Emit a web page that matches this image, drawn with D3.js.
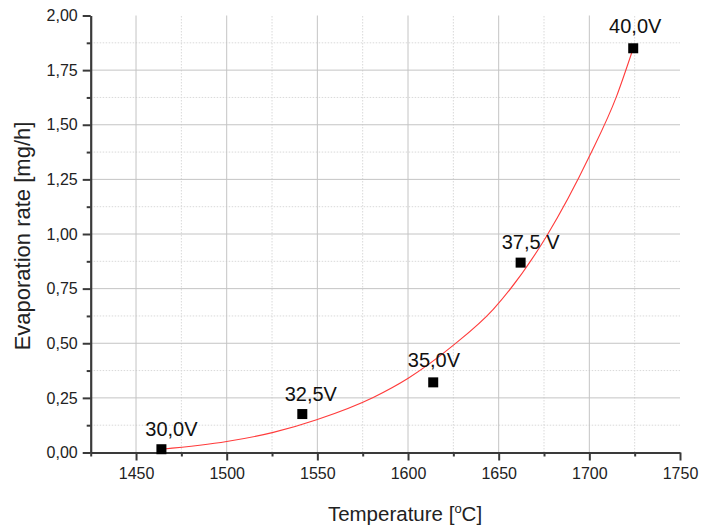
<!DOCTYPE html>
<html><head><meta charset="utf-8">
<script src="https://cdn.jsdelivr.net/npm/d3@7"></script>
<style>body{margin:0;background:#fff} svg{display:block;font-family:Arial,"Liberation Sans",sans-serif}</style>
</head><body><svg id="c" width="701" height="526"></svg>
<script>
// ---- data ----
const temperature = [1464, 1541.7, 1613.9, 1662.1, 1724.2];
const evaporation = [0.015, 0.176, 0.321, 0.869, 1.85];
const voltageLabels = ["30,0V", "32,5V", "35,0V", "37,5 V", "40,0V"];
// fitted curve
const fitT = [1464.2, 1500, 1525.7, 1549.6, 1580.8, 1600.1, 1624.9, 1647, 1676.4, 1700.3, 1715, 1724.2];
const fitV = [0.015, 0.050, 0.092, 0.150, 0.252, 0.340, 0.49, 0.655, 0.99, 1.36, 1.63, 1.85];
const xMajorTicks = [1450, 1500, 1550, 1600, 1650, 1700, 1750];
const xMinorTicks = [1425, 1475, 1525, 1575, 1625, 1675, 1725];
const yMajorTicks = [0, 0.25, 0.5, 0.75, 1.0, 1.25, 1.5, 1.75, 2.0];
const yMinorTicks = [0.125, 0.375, 0.625, 0.875, 1.125, 1.375, 1.625, 1.875];
const xTitle = "Temperature";
const yTitle = "Evaporation rate [mg/h]";

// ---- layout (styling) ----
const labelDx = [10, 8.5, 0.7, 10, 2];
const labelDy = [-13.3, -13.3, -15.6, -13.7, -15];
const W = 701, H = 526;
const m = {left: 90.7, right: 21, top: 15.5, bottom: 73.5};
const svg = d3.select("#c");
const x = d3.scaleLinear().domain([1425, 1750]).range([m.left, W - m.right]);
const y = d3.scaleLinear().domain([0, 2]).range([H - m.bottom, m.top]);
const fmt = v => d3.format(".2f")(v).replace(".", ",");

const grid = svg.append("g");
// minor grid
grid.selectAll(".vmin").data(xMinorTicks.filter(t => t > 1425)).join("line")
  .attr("x1", d => x(d)).attr("x2", d => x(d)).attr("y1", y(0)).attr("y2", y(2))
  .attr("stroke", "#d9d9d9").attr("stroke-width", 1).attr("stroke-dasharray", "1.5,1.5");
grid.selectAll(".hmin").data(yMinorTicks).join("line")
  .attr("y1", d => y(d)).attr("y2", d => y(d)).attr("x1", x(1425)).attr("x2", x(1750))
  .attr("stroke", "#d9d9d9").attr("stroke-width", 1).attr("stroke-dasharray", "1.5,1.5");
// major grid
grid.selectAll(".vmaj").data(xMajorTicks.filter(t => t < 1750)).join("line")
  .attr("x1", d => x(d)).attr("x2", d => x(d)).attr("y1", y(0)).attr("y2", y(2))
  .attr("stroke", "#c4c4c4").attr("stroke-width", 1);
grid.selectAll(".hmaj").data(yMajorTicks.filter(t => t > 0 && t < 2)).join("line")
  .attr("y1", d => y(d)).attr("y2", d => y(d)).attr("x1", x(1425)).attr("x2", x(1750))
  .attr("stroke", "#c4c4c4").attr("stroke-width", 1);

// axes
const axisColor = "#3a3a3a";
const xAxisMaj = d3.axisBottom(x).tickValues(xMajorTicks).tickSize(8).tickPadding(7).tickFormat(d3.format("d"));
const xAxisMin = d3.axisBottom(x).tickValues(xMinorTicks).tickSize(4).tickFormat("");
const yAxisMaj = d3.axisLeft(y).tickValues(yMajorTicks).tickSize(8).tickPadding(5).tickFormat(fmt);
const yAxisMin = d3.axisLeft(y).tickValues(yMinorTicks).tickSize(4).tickFormat("");

function styleAxis(g) {
  g.select(".domain").attr("stroke", axisColor).attr("stroke-width", 2.2);
  g.selectAll(".tick line").attr("stroke", axisColor).attr("stroke-width", 2);
  g.selectAll(".tick text").attr("fill", "#222").attr("font-size", 16).attr("font-family", "Arial, 'Liberation Sans', sans-serif");
}
svg.append("g").attr("transform", `translate(0,${y(0)})`).call(xAxisMin).call(styleAxis).select(".domain").remove();
svg.append("g").attr("transform", `translate(${x(1425)},0)`).call(yAxisMin).call(styleAxis).select(".domain").remove();
svg.append("g").attr("transform", `translate(0,${y(0)})`).call(xAxisMaj.tickSizeOuter(0)).call(styleAxis);
svg.append("g").attr("transform", `translate(${x(1425)},0)`).call(yAxisMaj.tickSizeOuter(0)).call(styleAxis);

// fit curve
const fitData = fitT.map((t, i) => [t, fitV[i]]);
svg.append("path").datum(fitData)
  .attr("fill", "none").attr("stroke", "#ff3b3b").attr("stroke-width", 1.1)
  .attr("d", d3.line().x(d => x(d[0])).y(d => y(d[1])).curve(d3.curveMonotoneX));

// points
const pts = temperature.map((t, i) => ({t, v: evaporation[i], label: voltageLabels[i], dx: labelDx[i], dy: labelDy[i]}));
svg.selectAll(".pt").data(pts).join("rect")
  .attr("x", d => x(d.t) - 5).attr("y", d => y(d.v) - 5).attr("width", 10).attr("height", 10)
  .attr("fill", "#000");
svg.selectAll(".lbl").data(pts).join("text")
  .attr("x", d => x(d.t) + d.dx).attr("y", d => y(d.v) + d.dy)
  .attr("text-anchor", "middle").attr("font-size", 20).attr("fill", "#111")
  .text(d => d.label);

// axis titles
const xt = svg.append("text").attr("x", 405).attr("y", 521).attr("text-anchor", "middle")
  .attr("font-size", 20.5).attr("fill", "#222");
xt.append("tspan").text(xTitle + " [");
xt.append("tspan").attr("font-size", 13).attr("dy", -8).text("o");
xt.append("tspan").attr("dy", 8).text("C]");
svg.append("text").attr("transform", `translate(30,236) rotate(-90)`).attr("text-anchor", "middle")
  .attr("font-size", 22).attr("fill", "#222").text(yTitle);
</script></body></html>
